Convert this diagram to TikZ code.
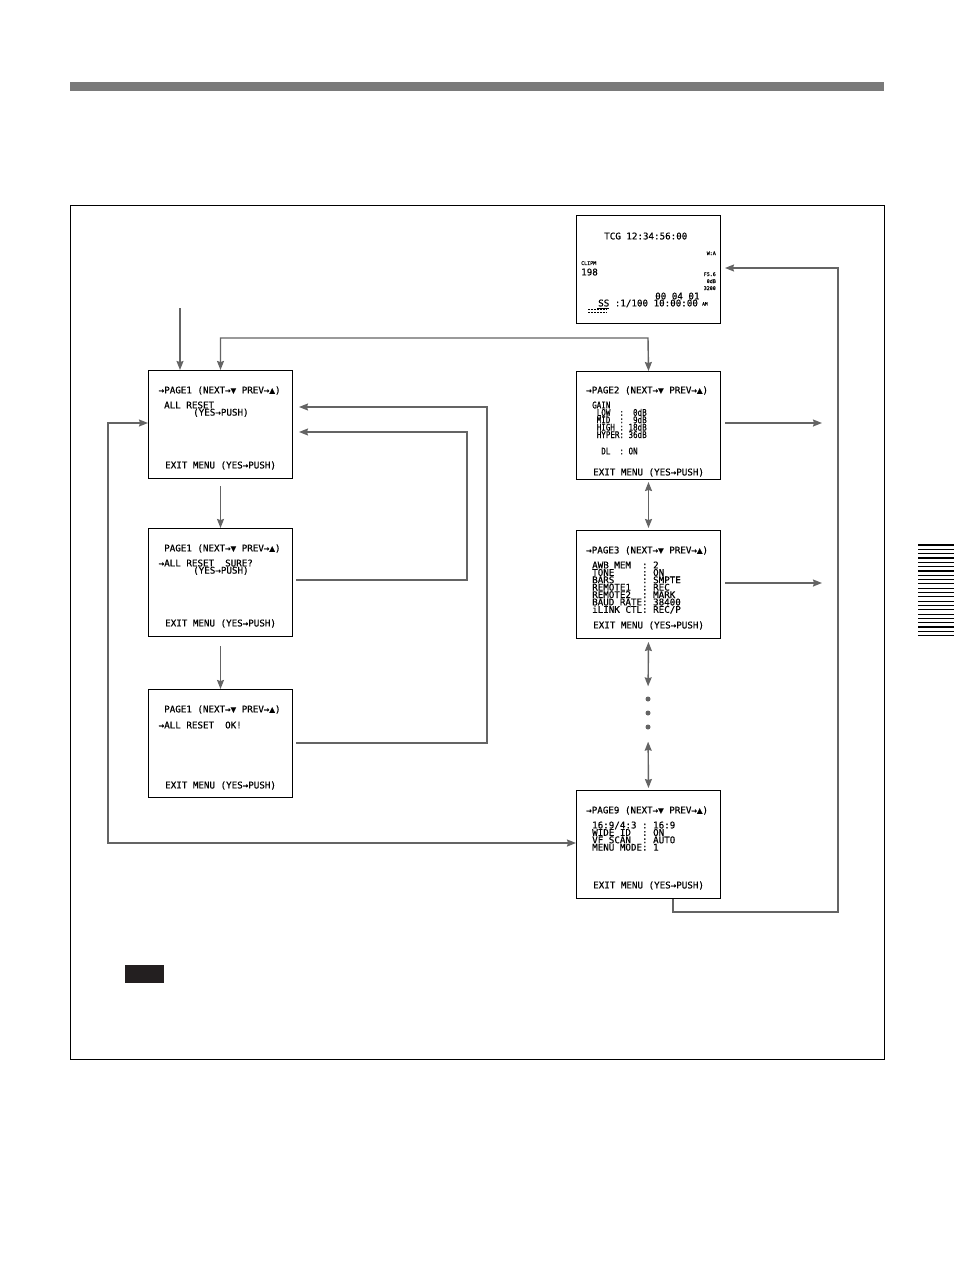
\documentclass[tikz,border=0pt]{standalone}
\usepackage{fontspec}
\newfontfamily\lcd[FakeBold=0.4]{DejaVu Sans Mono}
\newfontfamily\lcdn[FakeBold=0.4,FakeStretch=0.82]{DejaVu Sans Mono}
\usetikzlibrary{arrows.meta}
\definecolor{arrowgray}{RGB}{100,100,100}
\definecolor{bargray}{RGB}{122,122,122}
\definecolor{notebk}{RGB}{35,31,32}
\begin{document}
\begin{tikzpicture}[x=1pt,y=-1pt,
  screenbox/.style={draw=black,line width=1pt,minimum width=144pt,minimum height=108pt,inner sep=0pt,anchor=north west},
  lcdt/.style={font=\lcd\fontsize{9.2}{9.2}\selectfont,inner sep=0pt,anchor=base west},
  lcdnt/.style={font=\lcdn\fontsize{9.2}{9.2}\selectfont,inner sep=0pt,anchor=base west},
  tinyt/.style={font=\lcd\fontsize{5}{5}\selectfont,inner sep=0pt,anchor=base east},
  conn/.style={draw=arrowgray,line width=1.4pt},
  arr/.style={conn,-{Stealth[length=9pt,width=7pt,inset=1pt]}},
  dbl/.style={conn,{Stealth[length=9pt,width=7pt,inset=1pt]}-{Stealth[length=9pt,width=7pt,inset=1pt]}},
  dotn/.style={circle,fill=arrowgray,minimum size=5pt,inner sep=0pt}]
\fill[white] (0,0) rectangle (954,1273);
\useasboundingbox (0,0) rectangle (954,1273);

% header bar and frame
\fill[bargray] (70,82) rectangle (884,91);
\draw[line width=0.8pt] (70,205) rectangle (884,1059);

% side tab
\foreach \i in {0,...,21}{
  \draw[line width=1.2pt] (918,{545+\i*4.32}) -- (954,{545+\i*4.32});
}

% note marker
\fill[notebk] (125,965) rectangle (164,983);

% screens
\node[screenbox] (scr) at (576,215) {};
\node[screenbox] (pa) at (148,370) {};
\node[screenbox] (pb) at (148,528) {};
\node[screenbox] (pc) at (148,689) {};
\node[screenbox] (p2) at (576,371) {};
\node[screenbox] (p3) at (576,530) {};
\node[screenbox] (p9) at (576,790) {};

% top screen contents
\node[lcdt] (tcg) at (604,239.4) {TCG 12:34:56:00};
\node[tinyt] (wa) at (716,255) {W:A};
\node[tinyt,anchor=base west] (clipm) at (581,265) {CLIPM};
\node[lcdt] (n198) at (581,275.4) {198};
\node[tinyt] (fs) at (716,276) {F5.6};
\node[tinyt] (odb) at (716,283) {0dB};
\node[tinyt] (kel) at (716,290) {3200};
\node[lcdt] (ub) at (655,299.4) {00 04 01};
\node[lcdt] (ss) at (598,306.4) {SS~:1/100 10:00:00};
\node[tinyt,anchor=base west,font=\lcd\fontsize{4.5}{4.5}\selectfont] (am) at (702,305.5) {AM};
\draw[line width=0.7pt] (597,308) -- (609,308);
\draw[line width=1.3pt,dash pattern=on 2pt off 1pt] (588,309.5) -- (607,309.5);
\draw[line width=1.3pt,dash pattern=on 2pt off 1pt] (588,312.5) -- (607,312.5);

% PAGE1 screens
\node[lcdt] (pat) at (158.5,393.4) {→PAGE1~(NEXT→▼~PREV→▲)};
\node[lcdt] (paa) at (164,408.4) {ALL~RESET};
\node[lcdt] (pay) at (193,415.6) {(YES→PUSH)};
\node[lcdt] (pae) at (165,468.4) {EXIT~MENU~(YES→PUSH)};

\node[lcdt] (pbt) at (164,551.4) {PAGE1~(NEXT→▼~PREV→▲)};
\node[lcdt] (pba) at (158.5,566.4) {→ALL~RESET~~SURE?};
\node[lcdt] (pby) at (193,573.6) {(YES→PUSH)};
\node[lcdt] (pbe) at (165,626.4) {EXIT~MENU~(YES→PUSH)};

\node[lcdt] (pct) at (164,712.4) {PAGE1~(NEXT→▼~PREV→▲)};
\node[lcdt] (pca) at (158.5,728.4) {→ALL~RESET~~OK!};
\node[lcdt] (pce) at (165,788.4) {EXIT~MENU~(YES→PUSH)};

% PAGE2
\node[lcdt] (p2t) at (586,393.4) {→PAGE2~(NEXT→▼~PREV→▲)};
\node[lcdnt] (p2a) at (592,408.4) {GAIN};
\node[lcdnt] (p2b) at (592,415.8) {~LOW~~:~~0dB};
\node[lcdnt] (p2c) at (592,423.2) {~MID~~:~~9dB};
\node[lcdnt] (p2d) at (592,430.6) {~HIGH~:~18dB};
\node[lcdnt] (p2e) at (592,438.0) {~HYPER:~36dB};
\node[lcdnt] (p2f) at (592,454.4) {~~DL~~:~ON};
\node[lcdt] (p2x) at (593,475.4) {EXIT~MENU~(YES→PUSH)};

% PAGE3
\node[lcdt] (p3t) at (586,553.4) {→PAGE3~(NEXT→▼~PREV→▲)};
\node[lcdt] (p3a) at (592,568.4) {AWB~MEM~~:~2};
\node[lcdt] (p3b) at (592,575.8) {TONE~~~~~:~ON};
\node[lcdt] (p3c) at (592,583.2) {BARS~~~~~:~SMPTE};
\node[lcdt] (p3d) at (592,590.6) {REMOTE1~~:~REC};
\node[lcdt] (p3e) at (592,598.0) {REMOTE2~~:~MARK};
\node[lcdt] (p3f) at (592,605.4) {BAUD~RATE:~38400};
\node[lcdt] (p3g) at (592,612.8) {iLINK~CTL:~REC/P};
\node[lcdt] (p3x) at (593,628.4) {EXIT~MENU~(YES→PUSH)};

% PAGE9
\node[lcdt] (p9t) at (586,813.4) {→PAGE9~(NEXT→▼~PREV→▲)};
\node[lcdt] (p9a) at (592,828.4) {16:9/4:3~:~16:9};
\node[lcdt] (p9b) at (592,835.8) {WIDE~ID~~:~ON};
\node[lcdt] (p9c) at (592,843.2) {VF~SCAN~~:~AUTO};
\node[lcdt] (p9d) at (592,850.6) {MENU~MODE:~1};
\node[lcdt] (p9x) at (593,888.4) {EXIT~MENU~(YES→PUSH)};

% dots
\node[dotn] (d1) at (648,699) {};
\node[dotn] (d2) at (648,713) {};
\node[dotn] (d3) at (648,727) {};

% coordinates
\coordinate (inA) at (180,308);
\coordinate (topR) at (648,338);
\coordinate (r1) at (467,580);
\coordinate (r1t) at (467,432);
\coordinate (r2) at (487,743);
\coordinate (r2t) at (487,407);
\coordinate (l1) at (108,423);
\coordinate (l2) at (108,843);
\coordinate (o2) at (822,423);
\coordinate (o3) at (822,583);
\coordinate (b1) at (673,912);
\coordinate (b2) at (838,912);
\coordinate (b3) at (838,268);

% connectors
\draw[arr] (inA) -- (inA |- pa.north);
\draw[dbl] (pa.north) |- (topR) -- (p2.north);
\draw[arr,shorten <=7pt] (pa.south) -- (pb.north);
\draw[arr,shorten <=9pt] (pb.south) -- (pc.north);
\draw[arr,shorten <=3pt,shorten >=6pt] (pb.east |- r1) -- (r1) -- (r1t) -- (pa.east |- r1t);
\draw[arr,shorten <=3pt,shorten >=6pt] (pc.east |- r2) -- (r2) -- (r2t) -- (pa.east |- r2t);
\draw[dbl] (pa.west |- l1) -- (l1) -- (l2) -- (p9.west |- l2);
\draw[arr,shorten <=4pt] (p2.east |- o2) -- (o2);
\draw[arr,shorten <=4pt] (p3.east |- o3) -- (o3);
\draw[dbl,shorten <=2pt,shorten >=2pt] (p2.south) -- (p3.north);
\draw[dbl,shorten <=3pt,shorten >=10pt] (p3.south) -- (d1.north);
\draw[dbl,shorten <=12pt,shorten >=2pt] (d3.south) -- (p9.north);
\draw[arr,shorten >=4pt] (p9.south -| b1) -- (b1) -- (b2) -- (b3) -- (scr.east |- b3);
\end{tikzpicture}
\end{document}
